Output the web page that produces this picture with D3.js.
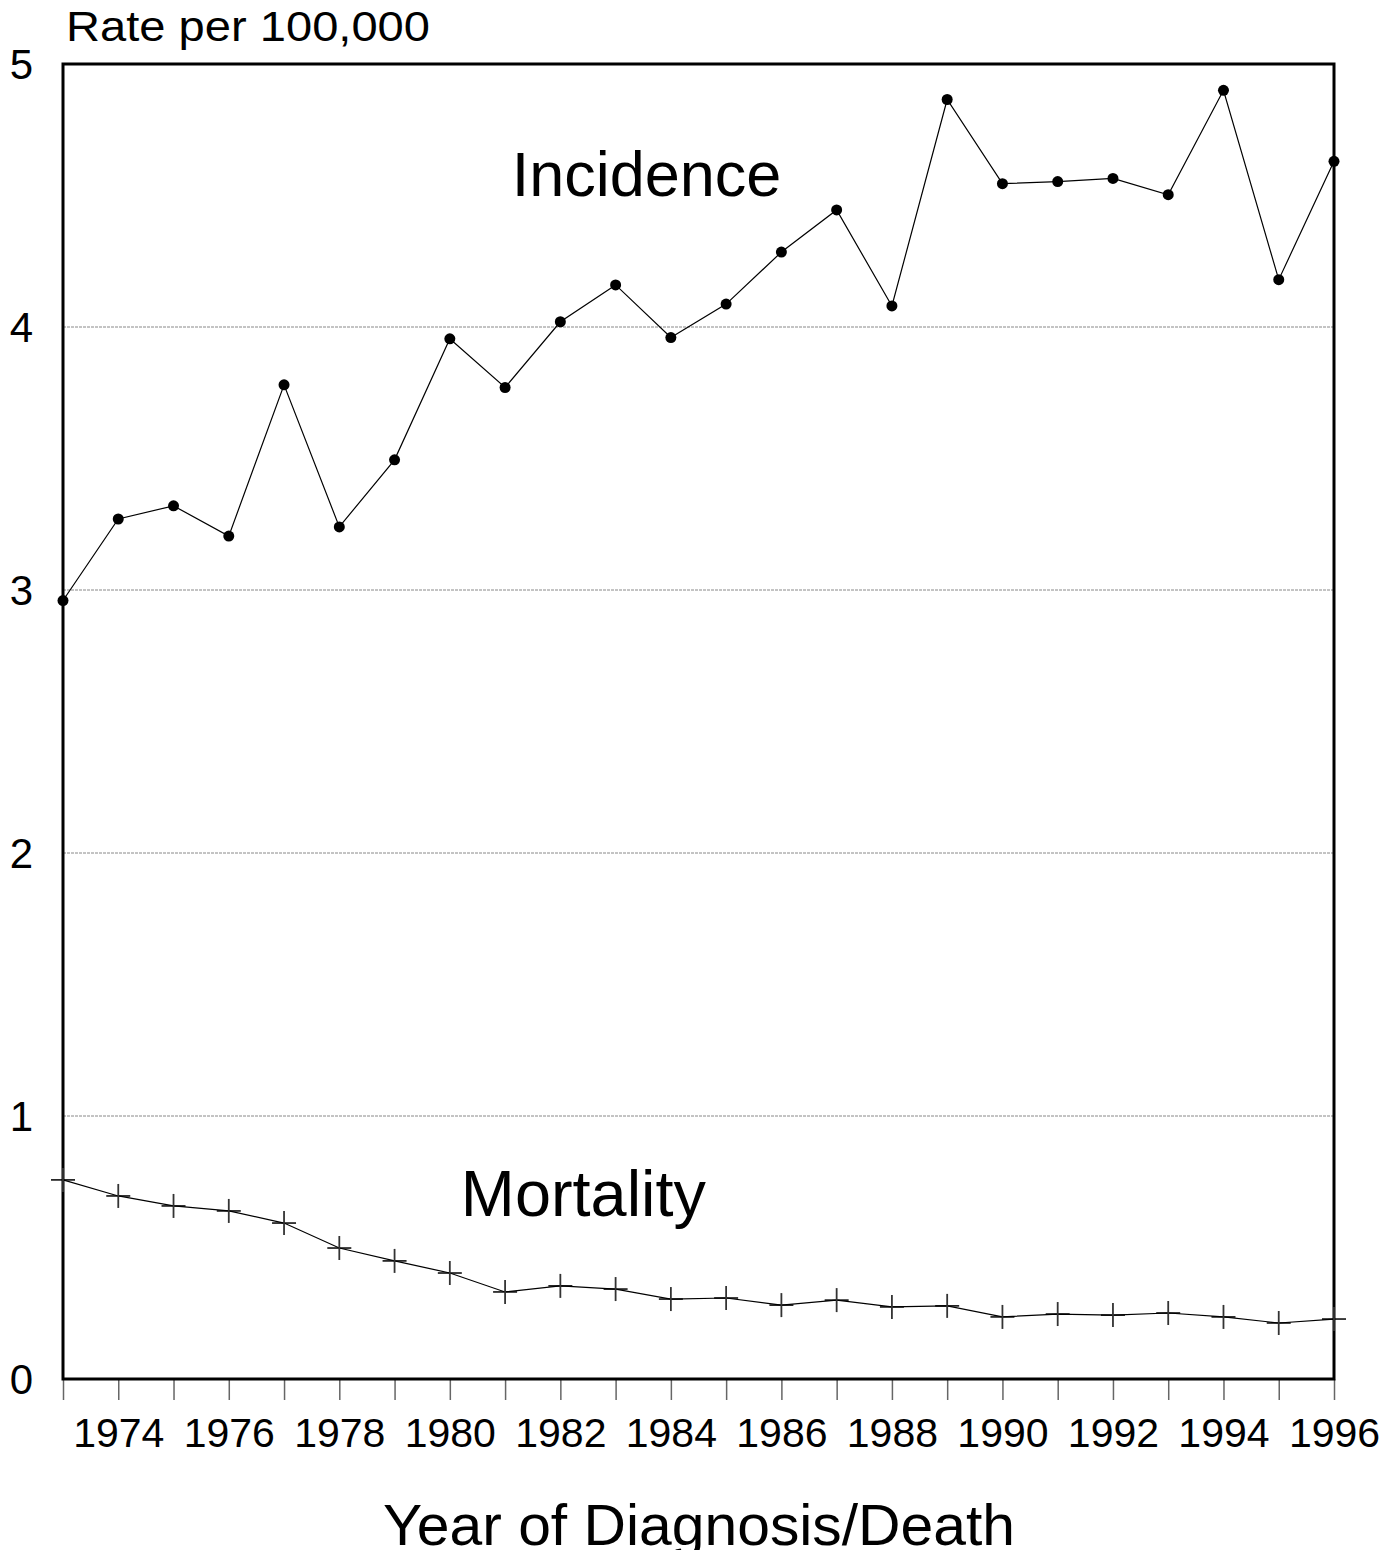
<!DOCTYPE html>
<html>
<head>
<meta charset="utf-8">
<script src="https://cdn.jsdelivr.net/npm/d3@7"></script>
<style>
  body { margin: 0; background: #fff; }
  text { font-family: "Liberation Sans", Arial, sans-serif; fill: #000; }
</style>
</head>
<body>
<svg id="chart" width="1396" height="1550"></svg>
<script>
var years = d3.range(1973, 1997);
var incidence = [2.96, 3.27, 3.32, 3.205, 3.78, 3.24, 3.495, 3.955, 3.77, 4.02, 4.16, 3.96,
  4.087, 4.285, 4.445, 4.08, 4.865, 4.545, 4.553, 4.565, 4.503, 4.9, 4.18, 4.63];
var mortality = [0.757, 0.696, 0.658, 0.639, 0.593, 0.498, 0.449, 0.403, 0.331, 0.354, 0.342, 0.304,
  0.308, 0.281, 0.300, 0.274, 0.278, 0.236, 0.247, 0.243, 0.251, 0.236, 0.213, 0.228];
var yTicks = [0, 1, 2, 3, 4, 5];
var gridTicks = [1, 2, 3, 4];
var xLabelYears = d3.range(1974, 1997, 2);

var svg = d3.select("#chart");
var margin = { top: 64, left: 63, right: 62, bottom: 171 };
var width = 1396 - margin.left - margin.right;
var height = 1550 - margin.top - margin.bottom;

var g = svg.append("g").attr("transform", `translate(${margin.left},${margin.top})`);

var x = d3.scaleLinear().domain([1973, 1996]).range([0, width]);
var y = d3.scaleLinear().domain([0, 5]).range([height, 0]);

// gridlines
g.selectAll(".grid")
  .data(gridTicks)
  .enter().append("line")
  .attr("x1", 0).attr("x2", width)
  .attr("y1", d => y(d)).attr("y2", d => y(d))
  .attr("stroke", "#888")
  .attr("stroke-width", 1)
  .attr("stroke-dasharray", "3,1");

// x ticks below frame
var xAxis = g.append("g")
  .attr("transform", `translate(0,${height})`)
  .call(d3.axisBottom(x).tickValues(years).tickSize(21).tickFormat(d => xLabelYears.includes(d) ? d : ""))
xAxis.select(".domain").remove();
xAxis.selectAll(".tick line").attr("stroke", "#666").attr("stroke-width", 1.5);
xAxis.selectAll(".tick text")
  .attr("y", 39)
  .attr("dy", "0.71em")
  .style("font-size", "41px")
  .style("font-family", "Liberation Sans, Arial, sans-serif")
  .attr("fill", "#000");

// y labels
var yAxis = g.append("g")
  .call(d3.axisLeft(y).tickValues(yTicks).tickSize(0).tickFormat(d3.format("d")));
yAxis.select(".domain").remove();
yAxis.selectAll(".tick text")
  .attr("x", -30)
  .attr("dy", "0.35em")
  .style("font-size", "42px")
  .style("font-family", "Liberation Sans, Arial, sans-serif")
  .attr("fill", "#000");

// frame
g.append("rect")
  .attr("x", 0).attr("y", 0)
  .attr("width", width).attr("height", height)
  .attr("fill", "none")
  .attr("stroke", "#000")
  .attr("stroke-width", 3);

var line = d3.line()
  .x((d, i) => x(years[i]))
  .y(d => y(d));

// incidence
g.append("path")
  .datum(incidence)
  .attr("d", line)
  .attr("fill", "none")
  .attr("stroke", "#000")
  .attr("stroke-width", 1.2);

g.selectAll(".dot")
  .data(incidence)
  .enter().append("circle")
  .attr("cx", (d, i) => x(years[i]))
  .attr("cy", d => y(d))
  .attr("r", 5.5)
  .attr("fill", "#000");

// mortality
g.append("path")
  .datum(mortality)
  .attr("d", line)
  .attr("fill", "none")
  .attr("stroke", "#000")
  .attr("stroke-width", 1.2);

var plus = g.selectAll(".plus")
  .data(mortality)
  .enter().append("g")
  .attr("transform", (d, i) => `translate(${x(years[i])},${y(d)})`);
plus.append("line").attr("x1", -12).attr("x2", 12).attr("y1", 0).attr("y2", 0)
  .attr("stroke", "#000").attr("stroke-width", 1.5);
plus.append("line").attr("x1", 0).attr("x2", 0).attr("y1", -12).attr("y2", 12)
  .attr("stroke", "#333").attr("stroke-width", 1.8);

// labels
svg.append("text")
  .attr("x", 66).attr("y", 41)
  .style("font-size", "42px")
  .attr("textLength", 364)
  .attr("lengthAdjust", "spacingAndGlyphs")
  .text("Rate per 100,000");

g.append("text")
  .attr("x", x(1981.12)).attr("y", y(4.5))
  .style("font-size", "63px")
  .text("Incidence");

g.append("text")
  .attr("x", x(1980.2)).attr("y", y(0.62))
  .style("font-size", "64px")
  .attr("textLength", 245)
  .attr("lengthAdjust", "spacingAndGlyphs")
  .text("Mortality");

svg.append("text")
  .attr("x", 699).attr("y", 1545)
  .attr("text-anchor", "middle")
  .style("font-size", "58px")
  .attr("textLength", 632)
  .attr("lengthAdjust", "spacingAndGlyphs")
  .text("Year of Diagnosis/Death");
</script>
</body>
</html>
